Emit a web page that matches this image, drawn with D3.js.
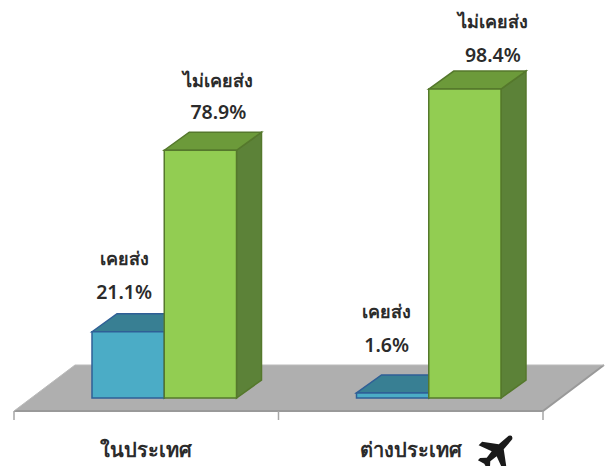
<!DOCTYPE html>
<html>
<head>
<meta charset="utf-8">
<script src="https://cdn.jsdelivr.net/npm/d3@7"></script>
<style>
  html, body { margin: 0; background: #fff; }
  text { font-family: "Noto Sans", "Open Sans", sans-serif; fill: #2b2b2b; text-anchor: middle; font-weight: 600; }
</style>
</head>
<body>
<svg id="chart" width="607" height="466"></svg>
<script>
const categories = ["ในประเทศ", "ต่างประเทศ"];
const seriesNames = ["เคยส่ง", "ไม่เคยส่ง"];
const everSent = [21.1, 1.6];
const neverSent = [78.9, 98.4];

const svg = d3.select("#chart");
const baseY = 398;
const depth = { x: 25, y: 18 };

const x0 = d3.scaleBand().domain(d3.range(categories.length)).range([14, 543]);
const x1 = d3.scaleBand().domain(d3.range(seriesNames.length))
  .range([78, x0.bandwidth() - 42]);
const y = d3.scaleLinear().domain([0, 100]).range([baseY, 84]);

const colors = [
  { front: "#4bacc6", top: "#387f93", side: "#2f6c7d", stroke: "#2f5f96" },
  { front: "#92cd52", top: "#6c9a3a", side: "#5c8238", stroke: "#55782c" }
];

// floor
const floorFront = 411, floorBack = 365, floorDx = 61;
const floorLine = d3.line();
svg.append("path")
  .attr("d", floorLine([[14, floorFront], [14 + floorDx, floorBack], [543 + floorDx, floorBack], [543, floorFront]]) + "Z")
  .attr("fill", "#afafaf");
svg.append("path")
  .attr("d", floorLine([[14, floorFront], [543, floorFront], [543 + floorDx, floorBack]]))
  .attr("fill", "none").attr("stroke", "#999").attr("stroke-width", 2);
svg.append("path")
  .attr("d", floorLine([[14, floorFront], [14 + floorDx, floorBack], [543 + floorDx, floorBack]]))
  .attr("fill", "none").attr("stroke", "#bbb").attr("stroke-width", 1);

// ticks
svg.selectAll("line.tick")
  .data(d3.range(categories.length + 1))
  .join("line")
  .attr("class", "tick")
  .attr("x1", i => 14 + i * x0.bandwidth())
  .attr("x2", i => 14 + i * x0.bandwidth())
  .attr("y1", floorFront)
  .attr("y2", 420)
  .attr("stroke", "#a6a6a6").attr("stroke-width", 1.5);

function drawBar(g, cat, s, v) {
  const c = colors[s];
  const l = x0(cat) + x1(s), r = l + x1.bandwidth(), t = y(v);
  const pts = a => d3.line()(a) + "Z";
  g.append("path")
    .attr("d", pts([[r, t], [r + depth.x, t - depth.y], [r + depth.x, baseY - depth.y], [r, baseY]]))
    .attr("fill", c.side).attr("stroke", c.stroke).attr("stroke-width", 1.5);
  g.append("path")
    .attr("d", pts([[l, t], [l + depth.x, t - depth.y], [r + depth.x, t - depth.y], [r, t]]))
    .attr("fill", c.top).attr("stroke", c.stroke).attr("stroke-width", 1.5);
  g.append("rect")
    .attr("x", l).attr("y", t).attr("width", r - l).attr("height", baseY - t)
    .attr("fill", c.front).attr("stroke", c.stroke).attr("stroke-width", 1.5);
}

const bars = svg.append("g");
categories.forEach((_, i) => {
  drawBar(bars, i, 0, everSent[i]);
  drawBar(bars, i, 1, neverSent[i]);
});

// labels
function label(cat, s, v, nameY, valY, shift) {
  const cx = x0(cat) + x1(s) + x1.bandwidth() / 2 + shift;
  svg.append("text").attr("x", cx).attr("y", nameY).attr("font-size", 18).text(seriesNames[s]);
  svg.append("text").attr("x", cx).attr("y", valY).attr("font-size", 19.5).text(v + "%");
}
label(0, 0, everSent[0], 265, 299, -4);
label(0, 1, neverSent[0], 87, 119, 18);
label(1, 0, everSent[1], 318, 352, -6);
label(1, 1, neverSent[1], 28, 62, 28);

// category labels
svg.append("text").attr("x", 146).attr("y", 457).attr("font-size", 20).text(categories[0]);
svg.append("text").attr("x", 411).attr("y", 457).attr("font-size", 20).text(categories[1]);

// plane icon
svg.append("path")
  .attr("transform", "translate(497,451) rotate(45)")
  .attr("d", "M-2.5,-19 Q0,-23 2.5,-19 L3.5,-6 L17,4 L17,9 L3.5,4 L2.5,12 L7,17 L7,20 L0,18 L-7,20 L-7,17 L-2.5,12 L-3.5,4 L-17,9 L-17,4 L-3.5,-6 Z")
  .attr("fill", "#1a1a1a");
</script>
</body>
</html>
